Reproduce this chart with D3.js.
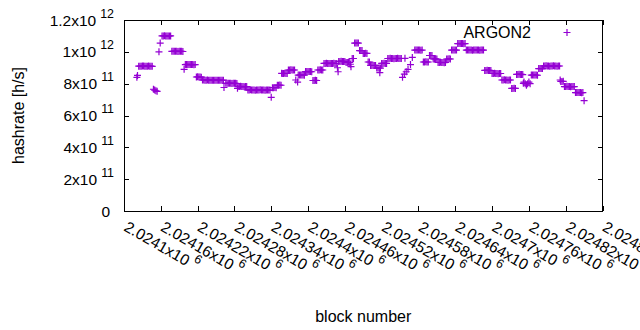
<!DOCTYPE html>
<html><head><meta charset="utf-8">
<script src="https://cdn.jsdelivr.net/npm/d3@7"></script>
<style>
body{margin:0;background:#fff}
svg{display:block}
text{font-family:"Liberation Sans",Arial,sans-serif;font-size:16px;fill:#000}
text.tl{font-size:15.5px}
</style>
</head><body>
<svg id="chart" width="640" height="330"></svg>
<script>
// block numbers (x) and hashrate in units of 10^12 h/s (y), one line per visual group
const blocks = [
2024121,2024122,
2024124,2024126,2024128,2024130,2024132,2024134,2024136,2024138,2024140,2024142,2024144,2024146,
2024148,2024150,2024152,2024154,
2024157,2024159,
2024162,2024164,2024166,2024168,2024170,2024172,2024174,2024176,
2024178,2024180,2024182,2024184,2024186,2024188,2024190,2024192,2024194,2024196,
2024198,
2024200,2024202,2024204,2024206,2024208,2024210,2024212,2024214,2024216,
2024218,2024220,2024222,2024224,2024226,
2024228,2024230,2024232,2024234,2024236,2024238,2024240,2024242,2024244,2024246,2024248,2024250,2024252,2024254,2024256,2024258,2024260,2024262,
2024263,
2024266,2024268,2024270,2024272,2024274,2024276,2024278,2024280,2024282,2024284,
2024285,
2024286,2024288,2024290,2024292,2024294,2024296,2024298,2024300,
2024302,2024304,2024306,2024308,2024310,2024312,2024314,2024316,2024318,2024320,2024322,2024324,2024326,2024328,2024330,2024332,2024334,2024336,2024338,
2024340,
2024342,2024344,2024346,2024348,
2024350,2024352,2024354,2024356,
2024357,
2024358,2024360,2024362,2024364,2024366,
2024368,2024370,2024372,2024374,2024376,2024378,
2024380,2024383,
2024384,2024386,2024388,2024390,2024392,2024394,
2024396,2024398,2024400,2024402,2024404,2024406,
2024408,2024410,2024412,2024414,
2024416,2024418,2024420,2024422,2024424,
2024426,2024428,2024430,2024432,2024434,2024436,2024438,2024440,2024442,2024444,2024446,
2024448,2024449,
2024450,2024452,2024454,2024456,2024458,2024460,
2024462,2024464,2024466,2024468,
2024469,2024470,
2024472,2024474,
2024476,2024478,2024480,2024482,
2024484,2024486,2024488,
2024490,2024492,2024494,2024496,
2024498,2024500,
2024502,2024504,2024506,2024508,2024510,
2024512,2024514,2024516,2024518,
2024517,
2024520,2024522,2024524,2024526,2024528,
2024530,2024532,2024534,2024536,2024538,2024540,2024542,2024544,2024546,2024548,2024550,2024552,
2024554,2024557,2024558,2024560,2024563,2024567,2024570,
2024574,2024576,2024578,2024580,2024582,2024584,2024586,
2024588,2024590,2024592,2024594,2024596,
2024598,2024600,2024602,
2024604,2024606,2024608,2024610,
2024612,2024614,2024616,2024618,2024620,2024622,2024624,
2024626,2024628,2024630,2024632,
2024634,2024636,2024638,2024640,2024642,
2024644,2024646,2024648,2024650,2024652,2024654,2024656,
2024658,2024660,2024662,2024664,2024666,2024668,2024670,2024672,2024674,2024676,2024678,2024680,2024682,2024684,2024686,
2024688,2024690,2024692,2024694,2024696,2024698,
2024700,2024702,2024704,2024706,2024708,2024710,2024712,2024714,
2024716,2024718,2024720,2024722,2024724,2024726,2024728,2024730,
2024732,2024734,2024736,2024738,
2024740,2024742,2024744,2024746,2024748,2024750,
2024751,
2024752,2024754,2024756,2024758,2024760,2024762,
2024764,2024766,2024768,2024770,2024772,2024774,
2024776,2024778,2024780,2024782,
2024784,2024786,2024788,2024790,2024792,2024794,2024796,2024798,2024800,2024802,2024804,2024806,2024808,2024810,
2024811,
2024812,2024814,2024816,
2024818,2024820,2024822,2024824,2024826,2024828,2024830,2024832,2024834,
2024836,2024838,2024840,2024842,2024844,2024846,2024848,
2024850
];
const hashrateE12 = [
0.840,0.852,
0.910,0.910,0.910,0.911,0.911,0.910,0.910,0.910,0.911,0.910,0.910,0.909,
0.765,0.760,0.755,0.752,
1.000,1.055,
1.100,1.100,1.101,1.100,1.100,1.099,1.100,1.100,
1.003,1.003,1.004,1.003,1.003,1.002,1.003,1.003,1.003,1.002,
0.890,
0.920,0.921,0.920,0.920,0.921,0.920,0.920,0.919,0.920,
0.842,0.843,0.842,0.842,0.841,
0.823,0.823,0.822,0.822,0.823,0.822,0.822,0.822,0.821,0.822,0.822,0.821,0.822,0.822,0.821,0.822,0.821,0.822,
0.776,
0.802,0.802,0.803,0.802,0.802,0.801,0.802,0.802,0.802,0.801,
0.771,
0.782,0.782,0.783,0.782,0.782,0.781,0.782,0.782,
0.760,0.760,0.761,0.760,0.760,0.760,0.759,0.760,0.760,0.760,0.761,0.760,0.760,0.760,0.759,0.760,0.760,0.760,0.760,
0.714,
0.775,0.775,0.776,0.775,
0.790,0.790,0.791,0.790,
0.865,
0.864,0.864,0.865,0.864,0.864,
0.886,0.886,0.887,0.886,0.886,0.886,
0.823,0.810,
0.854,0.854,0.855,0.854,0.854,0.853,
0.876,0.876,0.877,0.876,0.876,0.875,
0.820,0.820,0.821,0.820,
0.886,0.886,0.887,0.886,0.886,
0.927,0.927,0.928,0.927,0.927,0.926,0.927,0.927,0.928,0.927,0.927,
0.900,0.875,
0.940,0.940,0.941,0.940,0.940,0.939,
0.933,0.933,0.934,0.933,
0.922,0.907,
0.958,0.958,
1.055,1.055,1.056,1.055,
1.008,1.008,1.008,
0.990,0.990,0.991,0.990,
0.936,0.936,
0.914,0.914,0.915,0.914,0.914,
0.898,0.898,0.899,0.898,
0.869,
0.927,0.927,0.928,0.927,0.927,
0.958,0.958,0.959,0.958,0.958,0.957,0.958,0.958,0.959,0.958,0.958,0.958,
0.840,0.860,0.959,0.875,0.890,0.920,0.965,
1.011,1.011,1.012,1.011,1.011,1.010,1.011,
0.936,0.936,0.937,0.936,0.936,
0.977,0.977,0.977,
0.955,0.955,0.956,0.955,
0.933,0.933,0.934,0.933,0.933,0.932,0.933,
0.955,0.955,0.956,0.955,
1.011,1.011,1.012,1.011,1.011,
1.052,1.052,1.053,1.052,1.052,1.051,1.052,
1.011,1.011,1.012,1.011,1.011,1.010,1.011,1.011,1.012,1.011,1.011,1.010,1.011,1.011,1.011,
0.883,0.883,0.884,0.883,0.883,0.882,
0.864,0.864,0.865,0.864,0.864,0.863,0.864,0.864,
0.823,0.823,0.824,0.823,0.823,0.822,0.823,0.823,
0.770,0.770,0.771,0.770,
0.858,0.858,0.859,0.858,0.858,0.857,
0.802,
0.810,0.800,0.790,0.800,0.810,0.800,
0.854,0.854,0.855,0.854,0.854,0.853,
0.895,0.895,0.896,0.895,
0.911,0.911,0.912,0.911,0.911,0.910,0.911,0.911,0.912,0.911,0.911,0.910,0.911,0.911,
0.823,
0.814,0.814,0.815,
0.782,0.782,0.783,0.782,0.782,0.781,0.782,0.782,0.782,
0.744,0.744,0.745,0.744,0.744,0.743,0.744,
0.693
];
const seriesName = "ARGON2";
const xTickValues = [2024100,2024160,2024220,2024280,2024340,2024400,2024460,2024520,2024580,2024640,2024700,2024760,2024820,2024880];
const xTickMantissa = ["2.0241","2.02416","2.02422","2.02428","2.02434","2.0244","2.02446","2.02452","2.02458","2.02464","2.0247","2.02476","2.02482","2.02488"];
const xTickExponent = ["6","6","6","6","6","6","6","6","6","6","6","6","6","6"];
const yTickValues = [0,2e11,4e11,6e11,8e11,1e12,1.2e12];
const yTickMantissa = ["0","2","4","6","8","1","1.2"];
const yTickExponent = ["","11","11","11","11","12","12"];

const svg = d3.select("#chart");
const L = 124, R = 602.5, T = 20, B = 211;
const color = "#9400d3";
const x = d3.scaleLinear().domain([2024100, 2024880]).range([L, R]);
const y = d3.scaleLinear().domain([0, 1.2e12]).range([B, T]);
const tick = 5, ms = 3.5;

const data = blocks.map((b, i) => ({b, v: hashrateE12[i] * 1e12}));

// border
svg.append("rect").attr("x", L).attr("y", T).attr("width", R - L).attr("height", B - T)
  .attr("fill", "none").attr("stroke", "#000").attr("stroke-width", 1).attr("shape-rendering", "crispEdges");

// axes: ticks inward, mirrored on top and right
const yAxisL = d3.axisLeft(y).tickValues(yTickValues).tickSize(-tick).tickFormat(() => "");
const yAxisR = d3.axisRight(y).tickValues(yTickValues).tickSize(-tick).tickFormat(() => "");
svg.append("g").attr("transform", `translate(${L},0)`).call(yAxisL).call(g => g.select(".domain").remove());
svg.append("g").attr("transform", `translate(${R},0)`).call(yAxisR).call(g => g.select(".domain").remove());
const xAxisB = d3.axisBottom(x).tickValues(xTickValues).tickSize(-tick).tickFormat(() => "");
const xAxisT = d3.axisTop(x).tickValues(xTickValues).tickSize(-tick).tickFormat(() => "");
svg.append("g").attr("transform", `translate(0,${B})`).call(xAxisB).call(g => g.select(".domain").remove());
svg.append("g").attr("transform", `translate(0,${T})`).call(xAxisT).call(g => g.select(".domain").remove());
svg.selectAll(".tick line").attr("stroke", "#000").attr("shape-rendering", "crispEdges");

// y tick labels
yTickValues.forEach((v, i) => {
  const hasExp = !!yTickExponent[i];
  const t = svg.append("text").attr("class", "tl").attr("x", hasExp ? 114 : 110).attr("y", y(v) + 5.5).attr("text-anchor", "end");
  t.append("tspan").text(yTickMantissa[i] + (hasExp ? "x10" : ""));
  if (hasExp) {
    t.append("tspan").attr("dx", 4).attr("dy", -8).attr("font-size", "12.4px").text(yTickExponent[i]);
  }
});

// x tick labels rotated
xTickValues.forEach((v, i) => {
  const t = svg.append("text").attr("class", "tl").attr("transform", `translate(${x(v) - 1},230) rotate(30)`).attr("text-anchor", "start");
  t.append("tspan").text(xTickMantissa[i] + "x10");
  t.append("tspan").attr("dx", 4).attr("dy", -8).attr("font-size", "12.4px").text(xTickExponent[i]);
});

// axis titles
svg.append("text").attr("transform", `translate(24,${(T + B) / 2}) rotate(-90)`).attr("text-anchor", "middle").text("hashrate [h/s]");
svg.append("text").attr("x", (L + R) / 2).attr("y", 322).attr("text-anchor", "middle").text("block number");

// points
const plus = (cx, cy) => `M${cx - ms},${cy}H${cx + ms}M${cx},${cy - ms}V${cy + ms}`;
svg.append("g").selectAll("path").data(data).join("path")
  .attr("d", d => plus(x(d.b), y(d.v)))
  .attr("stroke", color).attr("stroke-width", 1.2).attr("fill", "none");

// legend
svg.append("text").attr("x", 531).attr("y", 37.5).attr("text-anchor", "end").text(seriesName);
svg.append("path").attr("d", plus(567, 32.5)).attr("stroke", color).attr("stroke-width", 1.2).attr("fill", "none");
</script>
</body></html>
